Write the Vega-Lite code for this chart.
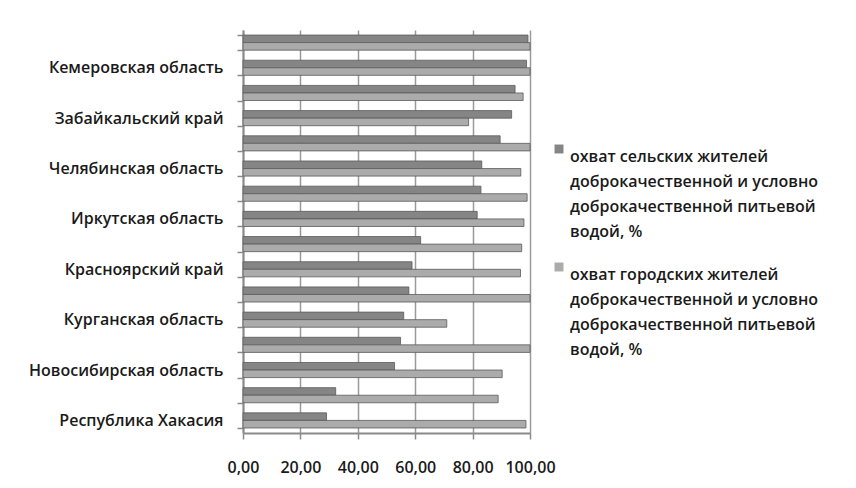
{
  "$schema": "https://vega.github.io/schema/vega-lite/v6.json",
  "width": 287,
  "height": 403,
  "autosize": "none",
  "padding": {"left": 243, "top": 30, "right": 326, "bottom": 55},
  "background": "white",
  "config": {
    "view": {"stroke": null},
    "font": "Open Sans",
    "style": {"guide-label": {"lineHeight": 25}}
  },
  "datasets": {
    "rows": [
      {"order": 1, "region": " ", "series": "rural", "value": 99.3},
      {"order": 1, "region": " ", "series": "urban", "value": 100},
      {"order": 2, "region": "Кемеровская область", "series": "rural", "value": 98.8},
      {"order": 2, "region": "Кемеровская область", "series": "urban", "value": 100},
      {"order": 3, "region": "  ", "series": "rural", "value": 94.8},
      {"order": 3, "region": "  ", "series": "urban", "value": 97.6},
      {"order": 4, "region": "Забайкальский край", "series": "rural", "value": 93.6},
      {"order": 4, "region": "Забайкальский край", "series": "urban", "value": 78.6},
      {"order": 5, "region": "   ", "series": "rural", "value": 89.6},
      {"order": 5, "region": "   ", "series": "urban", "value": 100},
      {"order": 6, "region": "Челябинская область", "series": "rural", "value": 83.2},
      {"order": 6, "region": "Челябинская область", "series": "urban", "value": 96.8},
      {"order": 7, "region": "    ", "series": "rural", "value": 82.9},
      {"order": 7, "region": "    ", "series": "urban", "value": 99},
      {"order": 8, "region": "Иркутская область", "series": "rural", "value": 81.6},
      {"order": 8, "region": "Иркутская область", "series": "urban", "value": 97.9},
      {"order": 9, "region": "     ", "series": "rural", "value": 61.9},
      {"order": 9, "region": "     ", "series": "urban", "value": 97.1},
      {"order": 10, "region": "Красноярский край", "series": "rural", "value": 58.9},
      {"order": 10, "region": "Красноярский край", "series": "urban", "value": 96.7},
      {"order": 11, "region": "      ", "series": "rural", "value": 57.8},
      {"order": 11, "region": "      ", "series": "urban", "value": 100},
      {"order": 12, "region": "Курганская область", "series": "rural", "value": 56},
      {"order": 12, "region": "Курганская область", "series": "urban", "value": 71},
      {"order": 13, "region": "       ", "series": "rural", "value": 54.9},
      {"order": 13, "region": "       ", "series": "urban", "value": 100},
      {"order": 14, "region": "Новосибирская область", "series": "rural", "value": 52.8},
      {"order": 14, "region": "Новосибирская область", "series": "urban", "value": 90.3},
      {"order": 15, "region": "        ", "series": "rural", "value": 32.3},
      {"order": 15, "region": "        ", "series": "urban", "value": 88.9},
      {"order": 16, "region": "Республика Хакасия", "series": "rural", "value": 29.1},
      {"order": 16, "region": "Республика Хакасия", "series": "urban", "value": 98.6}
    ]
  },
  "data": {"name": "rows"},
  "transform": [
    {"lookup": "series", "from": {"data": {"values": [
      {"series": "rural", "label": "охват сельских жителей|доброкачественной и условно|доброкачественной питьевой|водой, %"},
      {"series": "urban", "label": "охват городских жителей|доброкачественной и условно|доброкачественной питьевой|водой, %"}
    ]}, "key": "series", "fields": ["label"]}}
  ],
  "mark": {"type": "bar", "stroke": "#5a5a5a", "strokeWidth": 0.8},
  "encoding": {
    "y": {
      "field": "region",
      "type": "nominal",
      "sort": {"field": "order", "op": "min"},
      "scale": {"paddingInner": 0.4, "paddingOuter": 0.2},
      "axis": {
        "title": null,
        "domain": true,
        "domainColor": "#8a8a8a",
        "domainWidth": 2,
        "ticks": true,
        "tickBand": "extent",
        "tickColor": "#8a8a8a",
        "tickWidth": 1.5,
        "tickSize": 6,
        "labelFontSize": 16,
        "labelFontWeight": 600,
        "labelColor": "#1a1a1a",
        "labelPadding": 14,
        "labelLimit": 300
      }
    },
    "yOffset": {
      "field": "series",
      "type": "nominal",
      "sort": ["rural", "urban"],
      "scale": {"paddingInner": 0, "paddingOuter": 0}
    },
    "x": {
      "field": "value",
      "type": "quantitative",
      "scale": {"domain": [0, 100], "nice": false},
      "axis": {
        "title": null,
        "values": [0, 20, 40, 60, 80, 100],
        "labelExpr": "replace(format(datum.value, '.2f'), '.', ',')",
        "grid": true,
        "gridColor": "#9a9a9a",
        "gridWidth": 1.5,
        "domain": true,
        "domainColor": "#8a8a8a",
        "domainWidth": 2,
        "ticks": true,
        "tickColor": "#8a8a8a",
        "tickWidth": 1.5,
        "tickSize": 6,
        "labelFontSize": 16,
        "labelFontWeight": 600,
        "labelColor": "#1a1a1a",
        "labelPadding": 20,
        "labelFlush": false
      }
    },
    "color": {
      "field": "label",
      "type": "nominal",
      "sort": [
        "охват сельских жителей|доброкачественной и условно|доброкачественной питьевой|водой, %",
        "охват городских жителей|доброкачественной и условно|доброкачественной питьевой|водой, %"
      ],
      "scale": {"range": ["#858585", "#ababab"]},
      "legend": {
        "title": null,
        "orient": "none",
        "legendX": 308,
        "legendY": 111,
        "symbolType": "square",
        "symbolSize": 80,
        "symbolStrokeWidth": 0,
        "labelExpr": "split(datum.label, '|')",
        "labelFontSize": 16,
        "labelFontWeight": 600,
        "labelColor": "#1a1a1a",
        "labelLimit": 400,
        "labelOffset": 3,
        "labelBaseline": "top",
        "rowPadding": 19
      }
    }
  }
}
